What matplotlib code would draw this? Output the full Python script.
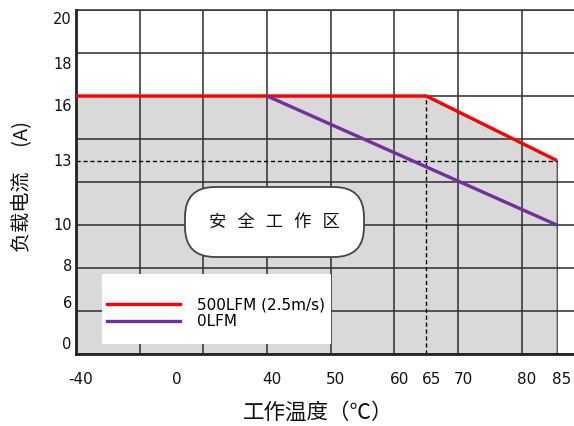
import numpy as np
import matplotlib
matplotlib.use('Agg')
import matplotlib.pyplot as plt
from matplotlib.patches import FancyBboxPatch, Rectangle
from matplotlib.transforms import ScaledTranslation
from matplotlib.lines import Line2D

# ---------------- data ----------------
temp_500 = [-40, 65, 85]          # 500LFM (2.5m/s) derating curve
curr_500 = [16, 16, 13]
temp_0 = [40, 85]                 # 0LFM derating curve
curr_0 = [16, 10]
series_labels = ['500LFM (2.5m/s)', '0LFM']
xtick_values = [-40, 0, 40, 50, 60, 65, 70, 80, 85]
ytick_labels = ['0', '6', '8', '10', '13', '16', '18', '20']
zone_label = '安  全  工  作  区'
xlabel = '工作温度（℃）'
ylabel = '负载电流\u3000 (A)'

# ---------------- layout (non-linear axis breakpoints) ----------------
xb_val = [-40, 40, 80, 85, 130]
xb_pos = [0, 3, 7, 7.55, 12.5]
yb_val = [-10, 0, 10, 20, 40]
yb_pos = [-3, 0, 3, 8, 18]
ytick_units = [0.26, 1.21, 2.07, 3.02, 4.51, 5.79, 6.77, 7.81]


def fx(v):
    return np.interp(v, xb_val, xb_pos)


def ix(p):
    return np.interp(p, xb_pos, xb_val)


def fy(v):
    return np.interp(v, yb_val, yb_pos)


def iy(p):
    return np.interp(p, yb_pos, yb_val)


W, H = 574, 426
fig = plt.figure(figsize=(W / 100, H / 100), dpi=100)
ax = fig.add_axes([76 / W, 72 / H, 498 / W, 344 / H])
ax.set_xscale('function', functions=(fx, ix))
ax.set_yscale('function', functions=(fy, iy))
ax.set_xlim(-40, float(ix(7.82)))
ax.set_ylim(0, 20)

red = '#ff0000'
purple = '#7030a0'

# safe operating area
ax.fill_between(temp_500, curr_500, 0, facecolor='#d9d9d9', edgecolor='#555555',
                linewidth=1.0, zorder=1)

# grid
ax.xaxis.remove_overlapping_locs = False
ax.yaxis.remove_overlapping_locs = False
ax.xaxis.set_minor_locator(matplotlib.ticker.FixedLocator(ix(np.arange(0, 8))))
ax.yaxis.set_minor_locator(matplotlib.ticker.FixedLocator(iy(np.arange(0, 9))))
ax.grid(False, which='major')
ax.grid(True, which='minor', color='#2e2e2e', linewidth=1.1, zorder=1.5)
ax.tick_params(which='minor', length=0)

# dashed guide lines at the knee
ax.plot([temp_500[0], temp_500[2]], [curr_500[2], curr_500[2]], color='black',
        linestyle=(0, (3, 2)), linewidth=1.0, zorder=2)
ax.plot([temp_500[1], temp_500[1]], [0, curr_500[1]], color='black',
        linestyle=(0, (3, 2)), linewidth=1.0, zorder=2)

# curves
ax.plot(temp_500, curr_500, color=red, linewidth=2.4, zorder=3, solid_capstyle='butt')
ax.plot(temp_0, curr_0, color=purple, linewidth=2.4, zorder=3, solid_capstyle='butt')

# ticks
ax.set_xticks(xtick_values, [str(v) for v in xtick_values])
ax.set_yticks(iy(np.array(ytick_units)), ytick_labels)
ax.tick_params(axis='x', which='major', length=0, pad=13, labelsize=11, labelcolor='#111111')
ax.tick_params(axis='y', which='major', length=0, pad=3, labelsize=10.5, labelcolor='#111111')
off = ScaledTranslation(5 / 100, 0, fig.dpi_scale_trans)
for lab in ax.get_xticklabels():
    lab.set_transform(lab.get_transform() + off)

# spines
ax.spines['right'].set_visible(False)
ax.spines['top'].set_color('#2e2e2e')
ax.spines['top'].set_linewidth(1.1)
for s in ('left', 'bottom'):
    ax.spines[s].set_color('#222222')
    ax.spines[s].set_linewidth(2.0)

# legend
ax.add_patch(Rectangle((0.052, 0.029), 0.46, 0.204, transform=ax.transAxes,
                       facecolor='white', edgecolor='none', zorder=4))
handles = [Line2D([], [], color=red, linewidth=2.4),
           Line2D([], [], color=purple, linewidth=2.4)]
leg = ax.legend(handles, series_labels, loc='center left',
                bbox_to_anchor=(0.062, 0.118), frameon=False, fontsize=11,
                handlelength=4.8, handletextpad=1.1, labelspacing=0.1,
                borderpad=0, borderaxespad=0)
leg.set_zorder(5)

# safe-area pill
pill = FancyBboxPatch((1.85, 1.69), 1.79, 0.70,
                      boxstyle='round,pad=0,rounding_size=0.3',
                      transform=fig.dpi_scale_trans, facecolor='white',
                      edgecolor='#444444', linewidth=1.3, zorder=4)
fig.add_artist(pill)
fig.text(2.745, 2.04, zone_label, transform=fig.dpi_scale_trans, ha='center',
         va='center', fontsize=12.5, color='#111111',
         family=['DejaVu Sans', 'Noto Sans CJK SC'], zorder=5)

# axis titles
fig.text(318 / W, 13 / H, xlabel, ha='center', va='center', fontsize=15.5,
         family=['Noto Sans CJK SC', 'DejaVu Sans'], color='#111111')
fig.text(23 / W, (H - 187) / H, ylabel, ha='center', va='center', fontsize=14.5,
         rotation=90, family=['Noto Sans CJK SC', 'DejaVu Sans'], color='#111111')

fig.savefig('out.png', dpi=100)
